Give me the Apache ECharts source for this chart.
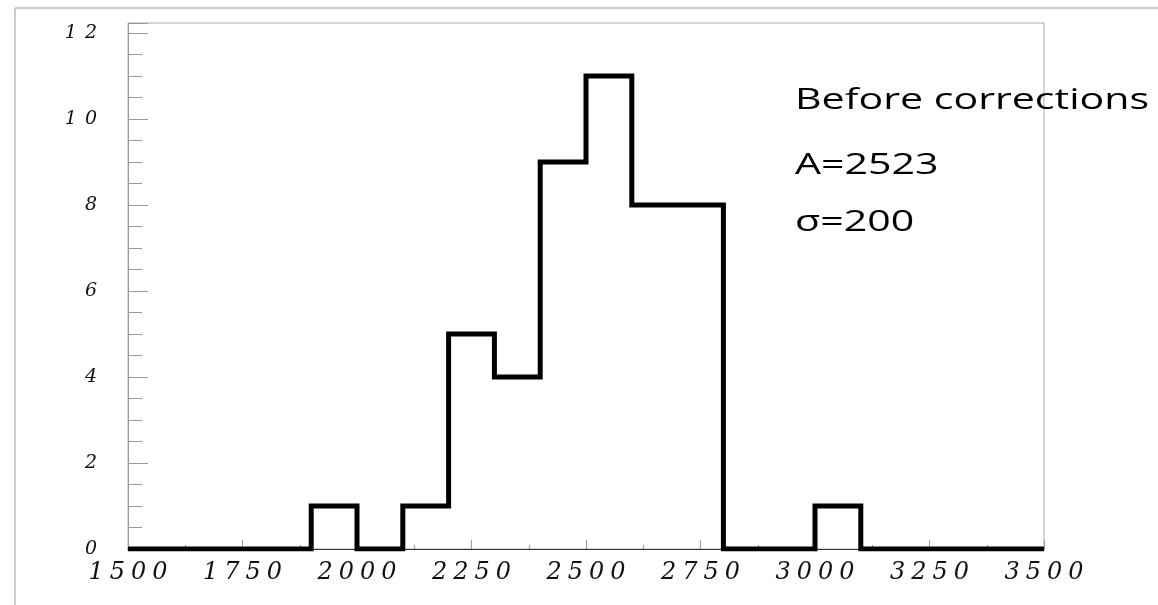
<!DOCTYPE html>
<html>
<head>
<meta charset="utf-8">
<script src="https://cdn.jsdelivr.net/npm/echarts@6/dist/echarts.min.js"></script>
<style>
html,body{margin:0;padding:0;background:#fff;}
#c{width:1158px;height:605px;}
</style>
</head>
<body>
<div id="c"></div>
<script>
// Histogram data (bin edges and counts per bin)
const binEdges = [1500, 1900, 2000, 2100, 2200, 2300, 2400, 2500, 2600, 2700, 2800, 3000, 3100, 3500];
const counts   = [0, 1, 0, 1, 5, 4, 9, 11, 8, 8, 0, 1, 0];
const annotationLines = ['Before corrections', 'A=2523', 'σ=200'];

const stepData = [];
for (let i = 0; i < counts.length; i++) stepData.push([binEdges[i], counts[i]]);
stepData.push([binEdges[binEdges.length - 1], counts[counts.length - 1]]);

function spaced(v) {
  return String(v).split('').map(c => '{d|' + c + '}').join('');
}

const labelFont = 'DejaVu Serif';
const chart = echarts.init(document.getElementById('c'));
const annTops = [85, 150, 207];
chart.setOption({
  animation: false,
  backgroundColor: '#fff',
  grid: {
    left: 128, right: 114, top: 23, bottom: 56,
    show: true, borderColor: '#aaa', borderWidth: 1, backgroundColor: 'transparent'
  },
  xAxis: {
    type: 'value', min: 1500, max: 3500, interval: 250,
    axisLine: { lineStyle: { color: '#333', width: 1 } },
    axisTick: { inside: true, length: 9, lineStyle: { color: '#999' } },
    minorTick: { show: true, splitNumber: 2, length: 4, lineStyle: { color: '#999' } },
    splitLine: { show: false },
    axisLabel: {
      margin: 12,
      fontFamily: labelFont, fontStyle: 'italic', fontSize: 24, color: '#111',
      formatter: spaced,
      rich: { d: { fontFamily: labelFont, fontStyle: 'italic', fontSize: 24, color: '#111', padding: [0, 3] } }
    }
  },
  yAxis: {
    type: 'value', min: 0, max: 12.23, interval: 2,
    axisLine: { show: true, lineStyle: { color: '#999', width: 1 } },
    axisTick: { inside: true, length: 20, lineStyle: { color: '#999' } },
    minorTick: { show: true, splitNumber: 4, length: 14, lineStyle: { color: '#999' } },
    splitLine: { show: false },
    axisLabel: {
      margin: 27,
      showMaxLabel: false,
      fontFamily: labelFont, fontStyle: 'italic', fontSize: 19, color: '#111',
      formatter: spaced,
      rich: { d: { fontFamily: labelFont, fontStyle: 'italic', fontSize: 19, color: '#111', padding: [0, 4] } }
    }
  },
  series: [{
    type: 'line',
    step: 'end',
    data: stepData,
    symbol: 'none',
    lineStyle: { color: '#000', width: 5, join: 'miter' },
    z: 5
  }],
  graphic: [
    { type: 'line', shape: { x1: 15, y1: 8, x2: 1158, y2: 8 }, style: { stroke: '#bbb', lineWidth: 1.5 } },
    { type: 'line', shape: { x1: 15, y1: 8, x2: 15, y2: 605 }, style: { stroke: '#bbb', lineWidth: 1.5 } }
  ].concat(annotationLines.map((t, i) => ({
    type: 'text', x: 795, y: annTops[i], scaleX: 1.37,
    style: { text: t, font: '30px "Open Sans"', fill: '#000', textVerticalAlign: 'top' },
    z: 10
  })))
});
</script>
</body>
</html>
